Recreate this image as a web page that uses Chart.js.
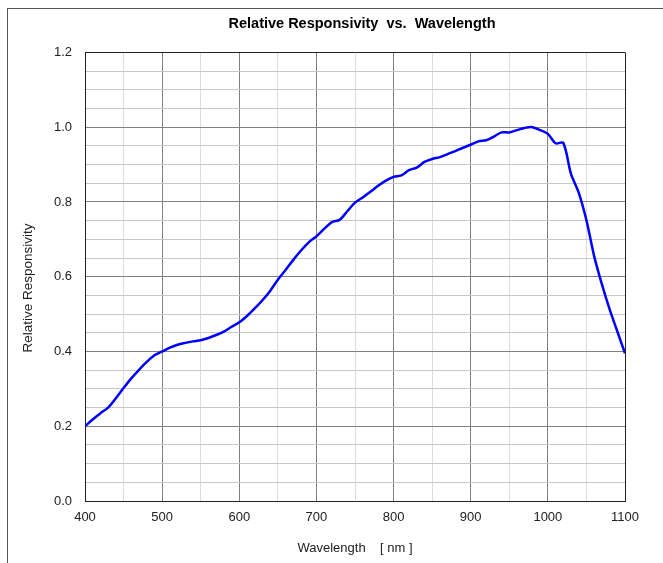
<!DOCTYPE html>
<html lang="en">
<head>
  <meta charset="UTF-8">
  <title>Relative Responsivity vs. Wavelength</title>
  <script src="https://cdn.jsdelivr.net/npm/chart.js"></script>
  <style>
    html, body { margin: 0; padding: 0; background: #fff; overflow: hidden; }
    .wrap { position: relative; width: 663px; height: 563px; overflow: hidden; }
    .frame { position: absolute; left: 7px; top: 8px; right: 0; bottom: 0;
             border-left: 1px solid #555; border-top: 1px solid #555; }
    canvas { position: absolute; left: 0; top: 0; }
  </style>
</head>
<body>
  <div class="wrap">
    <div class="frame"></div>
    <canvas id="respChart" width="724" height="563"></canvas>
  </div>

  <script>
    // values
    const wavelengths = [400, 410, 420, 430, 440, 450, 460, 470, 480, 490,
                         500, 510, 520, 530, 540, 550, 560, 570, 580, 590,
                         600, 610, 620, 630, 640, 650, 660, 670, 680, 690,
                         700, 710, 720, 730, 740, 750, 760, 770, 780, 790,
                         800, 810, 820, 830, 840, 850, 860, 870, 880, 890,
                         900, 910, 920, 930, 940, 950, 960, 970, 980, 990,
                         1000, 1010, 1020, 1030, 1040, 1050, 1060, 1070, 1080, 1090, 1100];
    const responsivity = [0.200, 0.218, 0.235, 0.250, 0.275, 0.302, 0.328, 0.351, 0.372, 0.390,
                          0.400, 0.410, 0.418, 0.423, 0.427, 0.430, 0.436, 0.444, 0.453, 0.466,
                          0.478, 0.495, 0.515, 0.537, 0.562, 0.592, 0.618, 0.645, 0.670, 0.692,
                          0.708, 0.728, 0.746, 0.752, 0.775, 0.798, 0.812, 0.827, 0.843, 0.857,
                          0.867, 0.871, 0.885, 0.892, 0.907, 0.915, 0.920, 0.928, 0.936, 0.945,
                          0.953, 0.962, 0.965, 0.975, 0.986, 0.986, 0.992, 0.998, 1.000, 0.992,
                          0.982, 0.957, 0.958, 0.875, 0.825, 0.751, 0.655, 0.580, 0.513, 0.454, 0.395];

    const font = "'Liberation Sans', Arial, sans-serif";

    const ctx = document.getElementById("respChart").getContext("2d");
    new Chart(ctx, {
      type: 'line',
      data: {
        datasets: [{
          label: "Relative Responsivity",
          data: wavelengths.map((w, i) => ({ x: w, y: responsivity[i] })),
          borderColor: "#0000ff",
          borderWidth: 2.5,
          pointRadius: 0,
          tension: 0.3,
          fill: false
        }]
      },
      options: {
        responsive: false,
        animation: false,
        layout: { padding: 0 },
        plugins: {
          legend: { display: false },
          tooltip: { enabled: false },
          title: {
            display: true,
            text: 'Relative Responsivity  vs.  Wavelength',
            color: '#000',
            font: { family: font, size: 14.5, weight: 'bold' },
            padding: { top: 15, bottom: 20 }
          }
        },
        scales: {
          x: {
            type: 'linear',
            min: 400,
            max: 1100,
            afterFit: s => { s.height = 62; },
            ticks: {
              stepSize: 50,
              autoSkip: false,
              maxRotation: 0,
              padding: 9,
              color: '#222',
              font: { family: font, size: 13 },
              callback: v => (v % 100 === 0 ? String(v) : '')
            },
            grid: {
              drawTicks: false,
              color: c => {
                const v = c.tick ? c.tick.value : 0;
                if (v === 1100) return '#222';
                return v % 100 === 0 ? '#808080' : '#dcdcdc';
              },
              lineWidth: 1
            },
            border: { color: '#222', width: 1 },
            title: {
              display: true,
              text: 'Wavelength    [ nm ]',
              color: '#222',
              font: { family: font, size: 13 },
              padding: { top: 0, bottom: 7 }
            }
          },
          y: {
            min: 0,
            max: 1.2,
            afterFit: s => { s.width = 85; },
            ticks: {
              stepSize: 0.05,
              autoSkip: false,
              padding: 13,
              color: '#222',
              font: { family: font, size: 13 },
              callback: v => (Math.round(v * 100) % 20 === 0 ? v.toFixed(1) : '')
            },
            grid: {
              drawTicks: false,
              color: c => {
                const v = c.tick ? Math.round(c.tick.value * 100) : 0;
                if (v === 120) return '#222';
                return v % 20 === 0 ? '#808080' : '#c8c8c8';
              },
              lineWidth: 1
            },
            border: { color: '#222', width: 1 },
            title: {
              display: true,
              text: 'Relative Responsivity      ',
              color: '#222',
              font: { family: font, size: 13.5 },
              padding: { top: 20, bottom: 0 }
            }
          },
          // empty right axis, only reserves room so the title centres like the reference
          yRight: {
            position: 'right',
            afterFit: s => { s.width = 99; },
            grid: { display: false, drawTicks: false },
            border: { display: false },
            ticks: { display: false }
          }
        }
      }
    });
  </script>
</body>
</html>
